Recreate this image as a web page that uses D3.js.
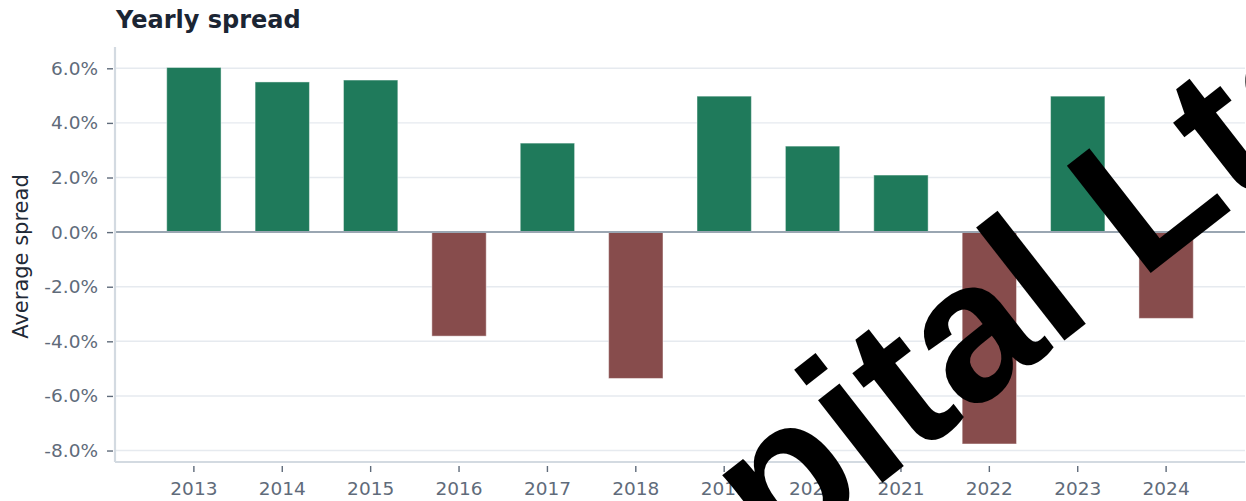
<!DOCTYPE html>
<html>
<head>
<meta charset="utf-8">
<script src="https://cdn.jsdelivr.net/npm/d3@7"></script>
<style>
  body { margin: 0; background: #fff; }
  svg { display: block; font-family: "DejaVu Sans", sans-serif; }
</style>
</head>
<body>
<svg id="chart"></svg>
<script>
const years = ["2013", "2014", "2015", "2016", "2017", "2018", "2019", "2020", "2021", "2022", "2023", "2024"];
const spreads = [0.0603, 0.0550, 0.0557, -0.0381, 0.0326, -0.0536, 0.0498, 0.0315, 0.0209, -0.0776, 0.0498, -0.0316];
const yTicks = [-0.08, -0.06, -0.04, -0.02, 0, 0.02, 0.04, 0.06];

const width = 1246, height = 501;
const plotLeft = 115, plotRight = 1245, plotTop = 47, plotBottom = 462;

const svg = d3.select("#chart")
    .attr("width", width)
    .attr("height", height);

const x = d3.scaleBand()
    .domain(years)
    .range([plotLeft, plotRight])
    .paddingInner(0.385)
    .paddingOuter(0.585);

const y = d3.scaleLinear()
    .domain([-0.0842, 0.0678])
    .range([plotBottom, plotTop]);

// grid lines
svg.append("g")
    .selectAll("line")
    .data(yTicks)
    .join("line")
    .attr("x1", plotLeft).attr("x2", plotRight)
    .attr("y1", d => y(d)).attr("y2", d => y(d))
    .attr("stroke", "#e6eaef")
    .attr("stroke-width", 1.4);

// bars
svg.append("g")
    .selectAll("rect")
    .data(years)
    .join("rect")
    .attr("x", d => x(d))
    .attr("width", x.bandwidth())
    .attr("y", (d, i) => y(Math.max(0, spreads[i])))
    .attr("height", (d, i) => Math.abs(y(spreads[i]) - y(0)))
    .attr("fill", (d, i) => spreads[i] >= 0 ? "#1f7a5b" : "#874c4c")
    .attr("stroke", "rgba(255,255,255,0.45)")
    .attr("stroke-width", 1);

// zero line
svg.append("line")
    .attr("x1", plotLeft).attr("x2", plotRight)
    .attr("y1", y(0)).attr("y2", y(0))
    .attr("stroke", "#9aa6b2")
    .attr("stroke-width", 2);

// y axis
const yAxis = svg.append("g")
    .attr("transform", `translate(${plotLeft},0)`)
    .call(d3.axisLeft(y).tickValues(yTicks).tickSize(7).tickPadding(10))
    .attr("font-family", "DejaVu Sans");
yAxis.select(".domain").attr("stroke", "#d3dae1").attr("stroke-width", 2.2)
    .attr("d", `M0,${plotTop}V${plotBottom}`);
yAxis.selectAll(".tick line").attr("stroke", "#5f6b7a").attr("stroke-width", 1.4).attr("x1", -8).attr("x2", -2);
yAxis.selectAll(".tick text")
    .attr("fill", "#5f6b7a")
    .style("font-size", "18.5px")
    .text(d => d3.format(".1%")(d).replace("−", "-"));

// x axis
const xAxis = svg.append("g")
    .attr("transform", `translate(0,${plotBottom})`)
    .call(d3.axisBottom(x).tickSize(7).tickPadding(9))
    .attr("font-family", "DejaVu Sans");
xAxis.select(".domain").attr("stroke", "#d3dae1").attr("stroke-width", 2.2)
    .attr("d", `M${plotLeft},0H${plotRight}`);
xAxis.selectAll(".tick line").attr("stroke", "#5f6b7a").attr("stroke-width", 1.4).attr("y1", 4).attr("y2", 10);
xAxis.selectAll(".tick text")
    .attr("fill", "#5f6b7a")
    .style("font-size", "18.5px")
    .attr("dy", null)
    .attr("y", 33);

// titles
svg.append("text")
    .attr("x", 116).attr("y", 28)
    .attr("fill", "#1b2533")
    .style("font-size", "24px")
    .style("font-weight", "bold")
    .text("Yearly spread");

svg.append("text")
    .attr("transform", `translate(28,${(plotTop + plotBottom) / 2 + 2}) rotate(-90)`)
    .attr("text-anchor", "middle")
    .attr("fill", "#1f2a37")
    .style("font-size", "21px")
    .text("Average spread");

// watermark
const mark = svg.append("text")
    .attr("transform", "translate(1140.3,281.2) rotate(-38)")
    .attr("fill", "#000")
    .style("font-family", "'Liberation Sans', Arial, sans-serif")
    .style("font-size", "198px")
    .style("font-weight", "bold")
    .text("Capital Ltd");
mark.attr("x", -mark.node().getSubStringLength(0, 8));
</script>
</body>
</html>
